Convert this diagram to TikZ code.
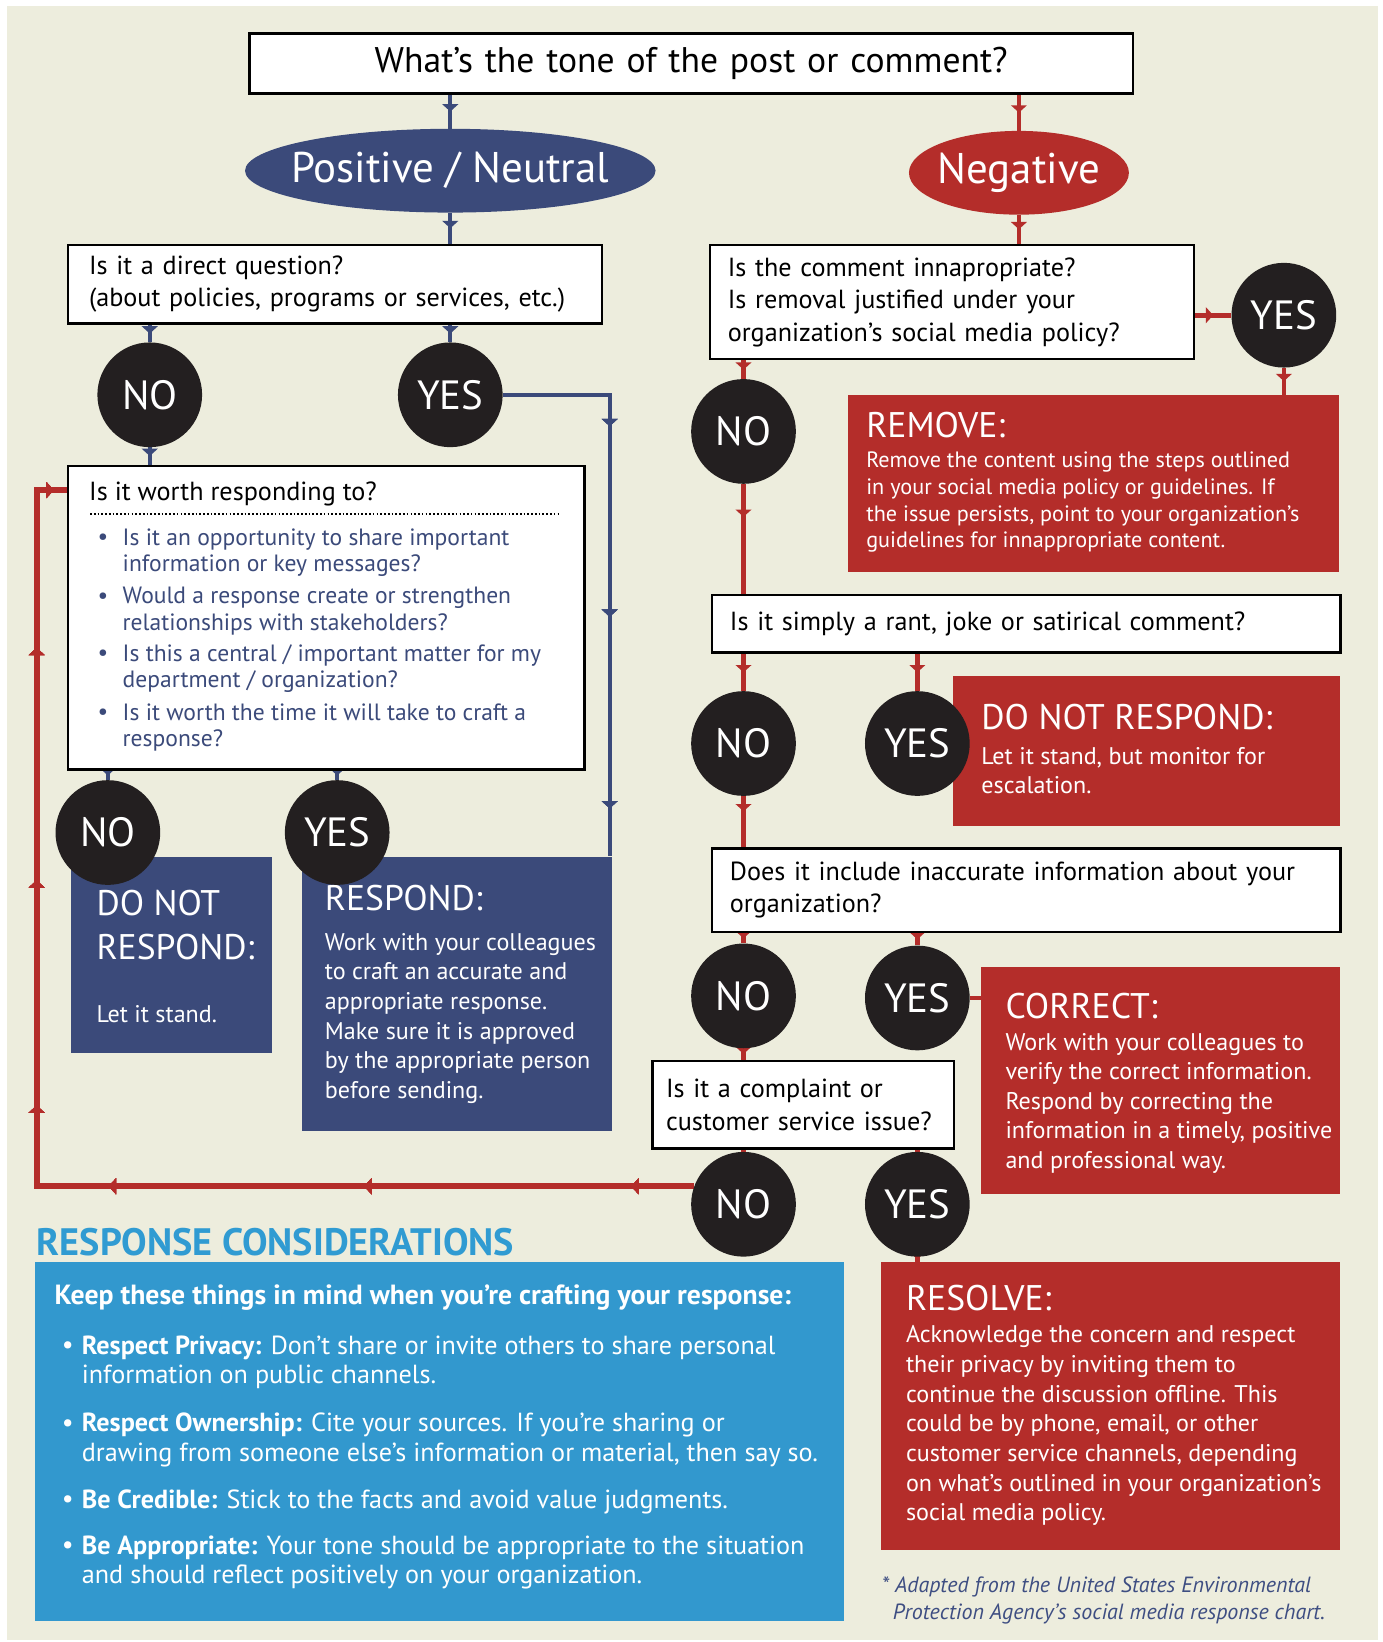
\documentclass[tikz,border=0pt]{standalone}
\usepackage{fontspec}
\setmainfont{PT Sans}
\usepackage{tikz}
\usetikzlibrary{positioning, shapes.geometric, arrows.meta, backgrounds, calc, decorations.markings}

\definecolor{paper}{RGB}{237,237,221}
\definecolor{navy}{RGB}{59,74,122}
\definecolor{brick}{RGB}{180,45,42}
\definecolor{ink}{RGB}{35,31,32}
\definecolor{sky}{RGB}{50,152,206}
\definecolor{skyhead}{RGB}{48,155,210}
\definecolor{footblue}{RGB}{62,78,130}

\newcommand{\titlefont}{\fontsize{34}{40}\selectfont}
\newcommand{\tonefont}{\fontsize{41}{48}\selectfont}
\newcommand{\qfont}{\fontsize{25}{31}\selectfont}
\newcommand{\listfont}{\fontsize{22.5}{25}\selectfont}
\newcommand{\ansfont}{\fontsize{39}{44}\selectfont}
\newcommand{\headfont}{\fontsize{34}{42}\selectfont}
\newcommand{\bodyfont}{\fontsize{23}{28.3}\selectfont}
\newcommand{\smallbody}{\fontsize{21.2}{25.6}\selectfont}
\newcommand{\notefont}{\fontsize{25}{28}\selectfont}
\newcommand{\leadfont}{\fontsize{26.5}{30}\selectfont\bfseries}
\newcommand{\rcfont}{\fontsize{36.5}{40}\selectfont\bfseries}
\newcommand{\footfont}{\fontsize{21}{26}\selectfont\itshape}

\begin{document}
\begin{tikzpicture}[
    x=1pt, y=-1pt,
    question/.style={draw=black, line width=2.5pt, fill=white, align=left, inner xsep=17pt, inner ysep=0pt, font=\qfont},
    answer/.style={circle, fill=ink, text=white, minimum size=100pt, inner sep=0pt, font=\ansfont},
    tonebubble/.style={ellipse, inner sep=0pt},
    result/.style={rectangle, inner sep=0pt},
    headtext/.style={anchor=west, text=white, inner sep=0pt, align=left, font=\headfont},
    bodytext/.style={anchor=west, text=white, inner sep=0pt, align=left, font=\bodyfont},
    listtext/.style={anchor=west, inner sep=0pt, align=left},
    navyline/.style={draw=navy, color=navy, line width=4pt},
    redline/.style={draw=brick, color=brick, line width=4.5pt},
    tip/.style={decoration={markings, mark=at position #1 with {\arrow{Triangle[length=7pt,width=15pt]}}}, postaction={decorate}},
    midarrow/.style={tip=#1},
    midarrow/.default=0.5
]
    \useasboundingbox (0,0) rectangle (1320,1568);
    \begin{pgfonlayer}{background}
        \fill[white] (0,0) rectangle (1320,1568);
        \fill[paper] (7,6) rectangle (1316,1566);
    \end{pgfonlayer}

    % tone of the post, then the two branches
    \node[question, align=center, text width=810pt, minimum height=57pt, font=\titlefont] (tone) at (660,60.5) {What’s the tone of the post or comment?};
    \node[tonebubble, fill=navy, minimum width=392pt, minimum height=80pt] (pos) at (430,163) {};
    \node[text=white, font=\tonefont] at (pos) {Positive / Neutral};
    \node[tonebubble, fill=brick, minimum width=210pt, minimum height=80pt] (neg) at (973,165) {};
    \node[text=white, font=\tonefont] at (neg) {Negative};

    % positive / neutral side
    \node[question, text width=470pt, inner xsep=20pt, minimum height=75pt] (q1) at (320,271.5) {Is it a direct question?\\(about policies, programs or services, etc.)};
    \node[question, minimum width=493pt, minimum height=290pt] (q2) at (311.5,590) {};
    \node[listtext, font=\qfont] at (85,472) {Is it worth responding to?};
    \draw[dash pattern=on 1.6pt off 2pt, line width=2pt] (86,491) -- (535,491);
    \node[listtext, text=navy, font=\listfont] at (93,515) {•};
    \node[listtext, text=navy, font=\listfont] at (117,527.5) {Is it an opportunity to share important\\information or key messages?};
    \node[listtext, text=navy, font=\listfont] at (93,571) {•};
    \node[listtext, text=navy, font=\listfont] at (117,583.5) {Would a response create or strengthen\\relationships with stakeholders?};
    \node[listtext, text=navy, font=\listfont] at (93,626) {•};
    \node[listtext, text=navy, font=\listfont] at (117,638.5) {Is this a central / important matter for my\\department / organization?};
    \node[listtext, text=navy, font=\listfont] at (93,682) {•};
    \node[listtext, text=navy, font=\listfont] at (117,694.5) {Is it worth the time it will take to craft a\\response?};

    \node[result, fill=navy, minimum width=192pt, minimum height=188pt] (skip) at (164,912) {};
    \node[headtext, font=\fontsize{34}{42}\selectfont] at (92,883) {DO NOT\\RESPOND:};
    \node[bodytext] at (92,968) {Let it stand.};
    \node[result, fill=navy, minimum width=296pt, minimum height=262pt] (respond) at (436,949) {};
    \node[headtext] at (310,858) {RESPOND:};
    \node[bodytext] at (310,972.5) {Work with your colleagues\\to craft an accurate and\\appropriate response.\\Make sure it is approved\\by the appropriate person\\before sending.};

    % negative side
    \node[question, text width=428pt, minimum height=109pt] (q3) at (909,288.5) {Is the comment innapropriate?\\Is removal justified under your\\organization’s social media policy?};
    \node[result, fill=brick, minimum width=469pt, minimum height=169pt] (remove) at (1044.5,461.5) {};
    \node[headtext] at (827,406) {REMOVE:};
    \node[bodytext, font=\smallbody] at (827,479.5) {Remove the content using the steps outlined\\in your social media policy or guidelines. If\\the issue persists, point to your organization’s\\guidelines for innappropriate content.};

    \node[question, text width=566pt, minimum height=55pt] (q4) at (980,595.5) {Is it simply a rant, joke or satirical comment?};
    \node[result, fill=brick, minimum width=370pt, minimum height=143pt] (ignore) at (1095,717.5) {};
    \node[headtext] at (937,685) {DO NOT RESPOND:};
    \node[bodytext] at (937,736) {Let it stand, but monitor for\\escalation.};

    \node[question, text width=566pt, minimum height=80pt] (q5) at (980,850) {Does it include inaccurate information about your\\organization?};
    \node[result, fill=brick, minimum width=343pt, minimum height=217pt] (correct) at (1108.5,1031.5) {};
    \node[headtext] at (960,961) {CORRECT:};
    \node[bodytext] at (960,1053.5) {Work with your colleagues to\\verify the correct information.\\Respond by correcting the\\information in a timely, positive\\and professional way.};

    \node[question, text width=262pt, inner xsep=13pt, minimum height=84pt] (q6) at (767,1055) {Is it a complaint or\\customer service issue?};
    \node[result, fill=brick, minimum width=439pt, minimum height=275pt] (resolve) at (1060.5,1342.5) {};
    \node[headtext] at (865,1240) {RESOLVE:};
    \node[bodytext] at (865,1361.5) {Acknowledge the concern and respect\\their privacy by inviting them to\\continue the discussion offline. This\\could be by phone, email, or other\\customer service channels, depending\\on what’s outlined in your organization’s\\social media policy.};

    % yes / no answers
    \node[answer] (no1) at (143,377) {NO};
    \node[answer] (yes1) at (430,377) {YES};
    \node[answer] (no2) at (103,795) {NO};
    \node[answer] (yes2) at (322,795) {YES};
    \node[answer] (yes3) at (1226,301) {YES};
    \node[answer] (no3) at (710,412) {NO};
    \node[answer] (no4) at (710,710) {NO};
    \node[answer] (yes4) at (876,710) {YES};
    \node[answer] (no5) at (710,951) {NO};
    \node[answer] (yes5) at (876,953) {YES};
    \node[answer] (no6) at (710,1150) {NO};
    \node[answer] (yes6) at (876,1150) {YES};

    % response considerations
    \node[listtext, text=skyhead, font=\rcfont] (rc) at (35,1186) {RESPONSE CONSIDERATIONS};
    \node[result, fill=sky, minimum width=773pt, minimum height=343pt] (tips) at (419.5,1376.5) {};
    \node[listtext, text=white, font=\leadfont] at (52,1239) {Keep these things in mind when you’re crafting your response:};
    \node[listtext, text=white, font=\notefont] at (59,1287) {•};
    \node[listtext, text=white, font=\notefont] at (78,1301) {\textbf{Respect Privacy:} Don’t share or invite others to share personal\\information on public channels.};
    \node[listtext, text=white, font=\notefont] at (59,1361) {•};
    \node[listtext, text=white, font=\notefont] at (78,1375) {\textbf{Respect Ownership:} Cite your sources. If you’re sharing or\\drawing from someone else’s information or material, then say so.};
    \node[listtext, text=white, font=\notefont] at (59,1434) {•};
    \node[listtext, text=white, font=\notefont] at (78,1434) {\textbf{Be Credible:} Stick to the facts and avoid value judgments.};
    \node[listtext, text=white, font=\notefont] at (59,1478) {•};
    \node[listtext, text=white, font=\notefont] at (78,1492) {\textbf{Be Appropriate:} Your tone should be appropriate to the situation\\and should reflect positively on your organization.};
    \node[listtext, text=footblue, font=\footfont] (note) at (842,1528) {* Adapted from the United States Environmental\\\hphantom{*}\,Protection Agency’s social media response chart.};

    \begin{pgfonlayer}{background}
    % connectors, kept under the nodes
    \draw[navyline, midarrow] (pos.north |- tone.south) -- (pos.north);
    \draw[navyline, midarrow] (pos.south) -- (pos.south |- q1.north);
    \draw[navyline, midarrow] (no1.north |- q1.south) -- (no1.north);
    \draw[navyline, midarrow] (yes1.north |- q1.south) -- (yes1.north);
    \draw[navyline, midarrow] (no1.south) -- (no1.south |- q2.north);
    \draw[navyline, tip=132pt, tip=314pt, tip=497pt] (yes1.east) -| ([xshift=-2pt]respond.north east);
    \draw[navyline, midarrow] (no2.north |- q2.south) -- (no2.north);
    \draw[navyline, midarrow] (yes2.north |- q2.south) -- (yes2.north);

    \draw[redline, midarrow] (neg.north |- tone.south) -- (neg.north);
    \draw[redline, midarrow] (neg.south) -- (neg.south |- q3.north);
    \draw[redline, midarrow] (q3.east |- yes3.west) -- (yes3.west);
    \draw[redline, midarrow] (yes3.south) -- (yes3.south |- remove.north);
    \draw[redline, midarrow] (no3.north |- q3.south) -- (no3.north);
    \draw[redline, midarrow=0.3] (no3.south) -- (no3.south |- q4.north);
    \draw[redline, midarrow] (no4.north |- q4.south) -- (no4.north);
    \draw[redline, midarrow] (yes4.north |- q4.south) -- (yes4.north);
    \draw[redline, midarrow=0.3] (no4.south) -- (no4.south |- q5.north);
    \draw[redline, midarrow] (no5.north |- q5.south) -- (no5.north);
    \draw[redline, midarrow] (yes5.north |- q5.south) -- (yes5.north);
    \draw[redline] (yes5.east) -- (yes5.east -| correct.west);
    \draw[redline, midarrow] (no5.south) -- (no5.south |- q6.north);
    \draw[redline, midarrow] (no6.north |- q6.south) -- (no6.north);
    \draw[redline, midarrow] (yes6.north |- q6.south) -- (yes6.north);
    \draw[redline, midarrow] (yes6.south) -- (yes6.south |- resolve.north);
    % the NO from a complaint goes back to "worth responding"
    \coordinate (backup) at (35,468);
    \draw[redline, line width=5.5pt, tip=60pt, tip=315pt, tip=559pt, tip=705pt, tip=920pt, tip=1142pt, tip=1309pt]
        (no6.160) -| (backup) -- (backup -| q2.west);
    \end{pgfonlayer}
\end{tikzpicture}
\end{document}
